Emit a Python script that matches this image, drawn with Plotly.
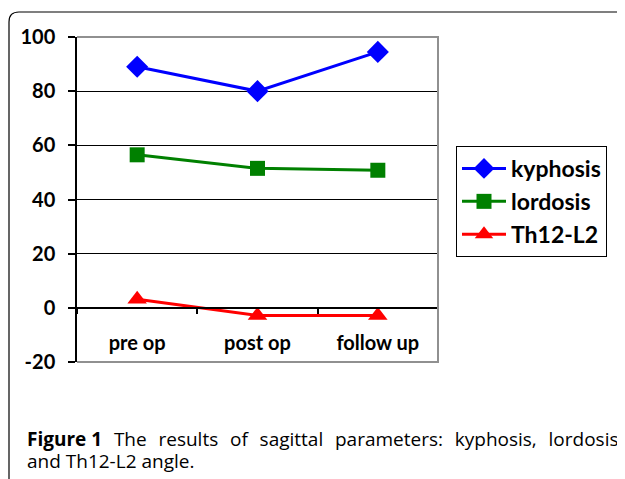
import plotly.graph_objects as go

categories = ["pre op", "post op", "follow up"]
kyphosis = [89, 80, 94.5]
lordosis = [56.5, 51.5, 50.8]
th12_l2 = [3.2, -2.8, -2.8]
y_ticks = [-20, 0, 20, 40, 60, 80, 100]
y_tick_labels = ["-20", "0", "20", "40", "60", "80", "100"]

OFF = 8  # page body margin
PW, PH = 625, 479
W, H = PW - OFF, PH - OFF
L, R, T, B = 77, 438, 37, 362  # plot area in page pixels

def px(x):
    return (x - L) / (R - L)

def py(y):
    return (B - y) / (B - T)

fig = go.Figure()
fig.add_trace(go.Scatter(x=categories, y=kyphosis, name="kyphosis", mode="lines+markers",
                         line=dict(color="#0000FF", width=3),
                         marker=dict(symbol="diamond", size=17, color="#0000FF")))
fig.add_trace(go.Scatter(x=categories, y=lordosis, name="lordosis", mode="lines+markers",
                         line=dict(color="#008000", width=3),
                         marker=dict(symbol="square", size=15, color="#008000")))
fig.add_trace(go.Scatter(x=categories, y=th12_l2, name="Th12-L2", mode="lines+markers",
                         line=dict(color="#FF0000", width=3),
                         marker=dict(symbol="triangle-up", size=17, color="#FF0000")))

axfont = dict(family="Lato", size=20, color="black", weight="bold")
sp = "&nbsp;&nbsp;&#8202;"
line1 = f"<b>Figure 1</b>{sp}The{sp}results{sp}of{sp}sagittal{sp}parameters:{sp}kyphosis,{sp}lordosis"

fig.update_layout(
    width=W, height=H,
    margin=dict(l=L - OFF, r=W - (R - OFF), t=T - OFF, b=H - (B - OFF)),
    paper_bgcolor="white", plot_bgcolor="white",
    showlegend=True,
    legend=dict(x=px(456), y=py(146), xanchor="left", yanchor="top",
                bgcolor="white", bordercolor="black", borderwidth=1,
                itemwidth=44,
                font=dict(family="Lato", size=23, color="black", weight="bold")),
    xaxis=dict(type="category", range=[-0.5, 2.5], anchor="free",
               position=(0 - y_ticks[0]) / (y_ticks[-1] - y_ticks[0]),
               showline=True, linecolor="black", linewidth=1.5,
               ticks="outside", tickson="boundaries", ticklen=5, tickcolor="black",
               tickwidth=1.5, showgrid=False, tickfont=axfont, ticklabelstandoff=17),
    yaxis=dict(range=[y_ticks[0], y_ticks[-1]], tickvals=y_ticks, ticktext=y_tick_labels,
               showline=True, linecolor="black", linewidth=1.5,
               ticks="outside", ticklen=7, tickcolor="black", tickwidth=1.5,
               showgrid=True, gridcolor="black", gridwidth=1.2, zeroline=False,
               tickfont=axfont, ticklabelstandoff=9),
    shapes=[
        dict(type="path", xref="paper", yref="paper",
             path="M 0,1 L 1,1 L 1,0 L 0,0",
             line=dict(color="#909090", width=2), layer="above"),
        dict(type="path", xref="paper", yref="paper",
             path=f"M {px(9)},{py(485)} L {px(9)},{py(22)} Q {px(9)},{py(12)} {px(19)},{py(12)} L {px(630)},{py(12)}",
             line=dict(color="black", width=1.2)),
    ],
    annotations=[
        dict(xref="paper", yref="paper", x=px(25), y=py(439), xanchor="left", yanchor="middle",
             showarrow=False, align="left", text=line1,
             font=dict(family="Open Sans", size=19, color="black")),
        dict(xref="paper", yref="paper", x=px(25), y=py(461), xanchor="left", yanchor="middle",
             showarrow=False, align="left", text="and Th12-L2 angle.",
             font=dict(family="Open Sans", size=19, color="black")),
    ],
)

fig.write_html("out.html")
